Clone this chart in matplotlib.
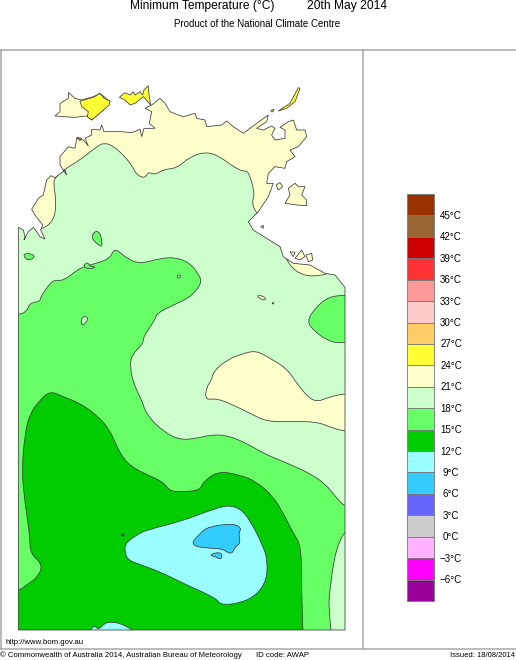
import matplotlib
matplotlib.use("Agg")
import matplotlib.pyplot as plt
from matplotlib.patches import Polygon, Rectangle, PathPatch
from matplotlib.path import Path

plt.rcParams["font.family"] = ["Liberation Sans", "DejaVu Sans"]

# --------------------
# Traced outlines: north part and south part, on a 3x pixel grid
# --------------------
coast_north = [(55,562),(70,570),(75,590),(72,600),(85,575),(100,562),(110,575),(120,590),(135,597),(122,570),(128,555),(105,525),(95,508),
    (115,475),(130,465),(140,420),(153,407),(165,413),(195,390),(200,405),(180,375),(180,350),(205,320),(225,325),(230,295),(250,300),(265,318),
    (255,295),(275,285),(275,268),(300,270),(305,255),(312,275),(365,275),(395,278),(420,268),(425,290),(432,265),(465,265),(448,250),(455,215),
    (435,205),(455,195),(480,175),(495,190),(510,215),(535,225),(550,230),(585,220),(590,235),(615,240),(620,260),(665,255),(680,243),(700,260),
    (730,280),(770,250),(805,225),(800,245),(770,265),(790,270),(815,258),(825,265),(815,285),(825,300),(855,295),(855,270),(840,262),(865,245),
    (880,240),(890,270),(915,270),(920,290),(895,320),(870,330),(885,350),(860,365),(855,385),(825,380),(805,400),(800,430),(820,430),(805,470),
    (775,515),(745,545),(760,570),(800,595),(840,620),(850,650),(880,670),(930,675),(975,700),(1005,705),(1035,742)]
coast_south = [(1035,1020),(55,1020)]

band18_north = [(-200,540),(118,555),(122,570),(160,545),(170,490),(160,430),(165,413),(190,390),(240,360),(290,320),(312,308),(340,318),(370,345),
    (395,375),(410,405),(435,415),(445,395),(465,405),(490,388),(530,385),(570,350),(620,335),(660,350),(700,380),(730,395),(745,392),(765,460),
    (755,490),(770,520),(800,560),(845,625),(870,680),(910,707),(960,708),(1000,695),(1050,720),(1200,780)]
band18_south = [(1200,1200),(-200,1200)]

band15_north = [(122,770),(150,730),(165,720),(190,722),(225,695),(250,680),(290,670),(330,655),(340,630),(355,632),(380,655),(420,672),(480,655),
    (530,652),(570,670),(590,695),(605,720),(595,745),(565,775)]
band15_south = [(520,45),(470,70),(465,90),(430,140),(430,160),(395,195),(390,230),(400,280),(425,330),(440,375),(490,425),(540,450),(590,445),
    (630,435),(680,435),(740,460),(790,490),(850,515),(920,545),(975,580),(1010,625),(1040,655),(1150,660),(1150,700),(1040,715),(1015,760),(1000,820),(990,900),
    (985,950),(1002,1100),(-100,1100),(-100,85),(55,75),(80,65),(90,38),(120,35)]

blob15_east = [(920,95),(945,55),(985,20),(1040,15),(1150,15),(1150,160),(1040,155),(1015,160),(980,150),(945,125)]
blob15_a = [(275,590),(285,572),(300,578),(305,600),(307,620),(295,615),(280,600)]
blob15_b = [(70,640),(100,642),(103,655),(85,660),(75,655)]
blob15_c = [(248,680),(262,665),(270,680),(290,680),(270,688)]
hole18_a = [(245,80),(265,80),(258,100),(243,107)]
hole21_a = [(772,15),(795,20),(797,32),(775,24)]
hole21_b = [(815,40),(823,36),(820,43)]
hole18_b = [(531,708),(540,703),(542,712),(534,715)]

band21_blob = [(615,330),(620,290),(635,270),(640,245),(680,210),(730,190),(770,182),(810,205),(860,235),(890,280),(940,340),(990,320),(1040,310),(1150,305),
    (1150,430),(1040,425),(1000,415),(950,395),(880,395),(800,395),(750,370),(700,345),(650,325)]

band12 = [(150,303),(120,330),(90,370),(75,430),(65,540),(75,640),(90,740),(90,790),(130,825),(110,865),(85,880),(55,905),(-100,930),(-100,1150),(915,1150),
    (905,950),(905,770),(880,730),(850,670),(820,620),(770,575),(720,555),(655,543),(610,575),(600,600),(560,605),(510,605),(490,575),(430,550),
    (380,520),(350,470),(330,420),(290,375),(240,340),(190,320)]

band9 = [(375,760),(410,735),(440,720),(540,695),(620,665),(680,645),(720,655),(750,690),(790,770),(802,810),(800,870),(770,915),(720,940),(660,945),
    (650,925),(560,885),(480,845),(410,820),(385,810),(375,790)]
band9_edge = [(255,1060),(280,1000),(295,1022),(320,992),(380,1005),(445,1060)]
band6 = [(570,765),(600,730),(625,710),(700,700),(725,715),(715,730),(722,760),(705,770),(695,795),(665,775),(620,775)]
band6_small = [(627,795),(660,785),(668,800),(660,808),(645,800)]
band3_speck = [(363,733),(372,732),(373,737),(365,738)]

bathurst = [(165,228),(180,215),(180,190),(205,175),(205,157),(225,175),(245,180),(280,170),(300,160),(330,185),(310,210),(275,240),(260,228),(225,232),(190,230)]
melville_24 = [(240,183),(280,172),(300,160),(312,175),(330,183),(328,195),(305,215),(275,240),(262,230),(265,215),(245,200)]
cobourg_24 = [(358,172),(375,158),(390,165),(400,155),(405,165),(420,155),(428,165),(432,150),(445,137),(447,165),(452,195),(430,170),(405,190),(390,195),(375,180)]
coast_24 = [(230,292),(245,295),(240,302)]
ne_island = [(835,213),(870,190),(895,143),(900,145),(885,185),(860,205)]
ne_islet = [(812,212),(822,208),(818,216)]
groote = [(855,490),(870,465),(865,445),(885,430),(895,440),(915,440),(905,465),(920,480),(920,497),(890,495)]
isle_a = [(828,435),(840,428),(848,440),(835,450)]
isle_b = [(782,560),(790,556),(790,565)]
pellew_a = [(870,635),(885,637),(880,650)]
pellew_b = [(885,655),(905,630),(915,650),(900,660)]
pellew_c = [(918,645),(935,640),(938,660),(925,665)]

# --------------------
# Legend
# --------------------
legend_colors = ["#993300","#996633","#CC0000","#FF3333","#FF9999","#FFCCCC","#FFCC66","#FFFF33","#FFFFCC","#CCFFCC","#66FF66",
    "#00CC00","#99FFFF","#33CCFF","#6666FF","#CCCCCC","#FFB3FF","#FF00FF","#990099"]
legend_labels = ["45°C","42°C","39°C","36°C","33°C","30°C","27°C","24°C","21°C","18°C","15°C","12°C","9°C","6°C","3°C","0°C","−3°C","−6°C"]

C24, C21, C18, C15, C12, C9, C6 = "#FFFF33", "#FFFFCC", "#CCFFCC", "#66FF66", "#00CC00", "#99FFFF", "#33CCFF"
LINE = "#3a3a3a"


def north(pts):
    return [(x / 3, (y + 120) / 3) for x, y in pts]


def south(pts):
    return [(x / 3, (y + 870) / 3) for x, y in pts]


def rounded(pts):
    # quadratic curve through edge midpoints, traced contours are smooth
    mids = [((a[0] + b[0]) / 2, (a[1] + b[1]) / 2) for a, b in zip(pts, pts[1:] + pts[:1])]
    verts = [mids[-1]]
    codes = [Path.MOVETO]
    for i, p in enumerate(pts):
        verts += [p, mids[i]]
        codes += [Path.CURVE3, Path.CURVE3]
    return Path(verts, codes)


fig = plt.figure(figsize=(5.16, 6.6), dpi=100)
ax = fig.add_axes([0, 0, 1, 1])
ax.set_xlim(0, 516)
ax.set_ylim(660, 0)
ax.axis("off")

# --------------------
# Map
# --------------------
land = Polygon(north(coast_north) + south(coast_south), closed=True, facecolor=C21, edgecolor="none", zorder=1)
ax.add_patch(land)

layers = [
    (north(band18_north) + south(band18_south), C18),
    (south(band21_blob), C21),
    (north(band15_north) + south(band15_south), C15),
    (south(blob15_east), C15),
    (north(blob15_a), C15),
    (north(blob15_b), C15),
    (north(blob15_c), C15),
    (south(hole18_a), C18),
    (north(hole18_b), C18),
    (south(hole21_a), C21),
    (south(hole21_b), C21),
    (south(band12), C12),
    (south(band9), C9),
    (south(band9_edge), C9),
    (south(band6), C6),
    (south(band6_small), C6),
    (south(band3_speck), "#6666FF"),
]
for pts, col in layers:
    p = PathPatch(rounded(pts), facecolor=col, edgecolor=LINE, linewidth=0.55, zorder=2)
    ax.add_patch(p)
    p.set_clip_path(land)

islands = [
    (bathurst, C21), (melville_24, C24), (cobourg_24, C24), (coast_24, C24), (ne_island, C24), (ne_islet, C24),
    (groote, C21), (isle_a, C21), (isle_b, C21), (pellew_a, C21), (pellew_b, C21), (pellew_c, C21),
]
for pts, col in islands:
    ax.add_patch(Polygon(north(pts), closed=True, facecolor=col, edgecolor=LINE, linewidth=0.55, zorder=3))

ax.add_patch(Polygon(north(coast_north) + south(coast_south), closed=True, facecolor="none", edgecolor=LINE, linewidth=0.55, zorder=4))

# --------------------
# Frame
# --------------------
frame = "#a8a8a8"
ax.plot([0.5, 516], [50, 50], color=frame, lw=1.1, zorder=5)
ax.plot([0.5, 516], [648.5, 648.5], color=frame, lw=1.1, zorder=5)
ax.plot([0.5, 0.5], [50, 648.5], color=frame, lw=1.1, zorder=5)
ax.plot([362.5, 362.5], [50, 648.5], color=frame, lw=1.1, zorder=5)

# --------------------
# Colour legend
# --------------------
box_top, box_h = 194, 21.42
for i, col in enumerate(legend_colors):
    ax.add_patch(Rectangle((407, box_top + i * box_h), 27, box_h, facecolor=col, edgecolor="#777777", linewidth=0.6, zorder=3))
for i, lab in enumerate(legend_labels):
    ax.text(451, box_top + (i + 1) * box_h + 0.5, lab, ha="center", va="center", fontsize=7, color="black")

# --------------------
# Text
# --------------------
ax.text(130, 6, "Minimum Temperature (°C)", fontsize=8.65, va="center", ha="left")
ax.text(307, 6, "20th May 2014", fontsize=8.65, va="center", ha="left")
ax.text(257.5, 24, "Product of the National Climate Centre", fontsize=7, va="center", ha="center")
ax.text(5, 642, "http://www.bom.gov.au", fontsize=5.6, va="center", ha="left")
ax.text(0, 655.5, "© Commonwealth of Australia 2014, Australian Bureau of Meteorology", fontsize=5.57, va="center", ha="left")
ax.text(256, 655.5, "ID code: AWAP", fontsize=5.6, va="center", ha="left")
ax.text(515, 655.5, "Issued: 18/08/2014", fontsize=5.5, va="center", ha="right")

fig.savefig("out.png", dpi=100)
